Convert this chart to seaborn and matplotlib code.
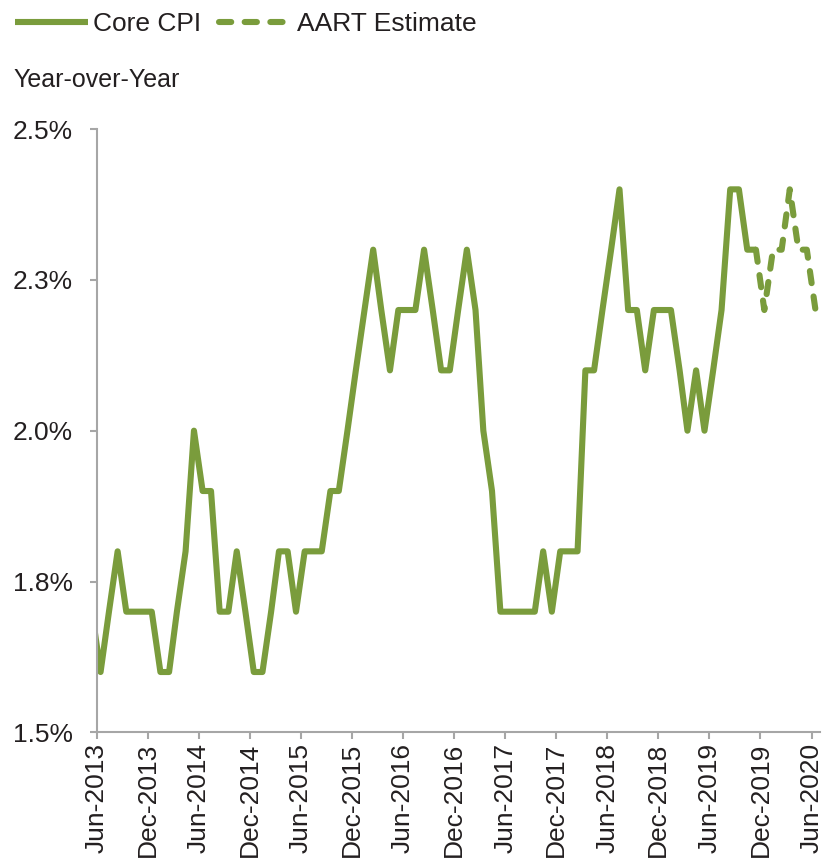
import numpy as np
import pandas as pd
import matplotlib
matplotlib.use("Agg")
import matplotlib.pyplot as plt
import matplotlib.dates as mdates
import seaborn as sns

# Core CPI, year-over-year %, May-2013 .. Nov-2019 (monthly)
core_first_month = "2013-05-01"
core_cpi = [1.7, 1.6, 1.7, 1.8, 1.7, 1.7, 1.7, 1.7,                    # 2013
            1.6, 1.6, 1.7, 1.8, 2.0, 1.9, 1.9, 1.7, 1.7, 1.8, 1.7, 1.6,  # 2014
            1.6, 1.7, 1.8, 1.8, 1.7, 1.8, 1.8, 1.8, 1.9, 1.9, 2.0, 2.1,  # 2015
            2.2, 2.3, 2.2, 2.1, 2.2, 2.2, 2.2, 2.3, 2.2, 2.1, 2.1, 2.2,  # 2016
            2.3, 2.2, 2.0, 1.9, 1.7, 1.7, 1.7, 1.7, 1.7, 1.8, 1.7, 1.8,  # 2017
            1.8, 1.8, 2.1, 2.1, 2.2, 2.3, 2.4, 2.2, 2.2, 2.1, 2.2, 2.2,  # 2018
            2.2, 2.1, 2.0, 2.1, 2.0, 2.1, 2.2, 2.4, 2.4, 2.3, 2.3]       # 2019

# AART estimate, Nov-2019 .. Jun-2020
aart_first_month = "2019-11-01"
aart_est = [2.3, 2.2, 2.3, 2.3, 2.4, 2.3, 2.3, 2.2]

y_ticks = [1.5, 1.75, 2.0, 2.25, 2.5]
y_tick_labels = ["1.5%", "1.8%", "2.0%", "2.3%", "2.5%"]

# points sit mid-month on the date axis
mid = pd.Timedelta(days=14)
core_df = pd.DataFrame({
    "date": pd.date_range(core_first_month, periods=len(core_cpi), freq="MS") + mid,
    "value": core_cpi})
aart_df = pd.DataFrame({
    "date": pd.date_range(aart_first_month, periods=len(aart_est), freq="MS") + mid,
    "value": aart_est})

sns.set_style("white")
plt.rcParams["font.family"] = ["Liberation Sans", "DejaVu Sans"]

green = "#7a9c3c"
text_color = "#231f20"
axis_gray = "#a6a6a6"

fig = plt.figure(figsize=(8.29, 8.63), dpi=100)
ax = fig.add_axes([0.1166, 0.1514, 0.8725, 0.6991])

sns.lineplot(data=core_df, x="date", y="value", ax=ax, color=green, linewidth=4.4,
             label="Core CPI", solid_joinstyle="round", solid_capstyle="butt")
sns.lineplot(data=aart_df, x="date", y="value", ax=ax, color=green, linewidth=4.4,
             label="AART Estimate")
aart_line = ax.get_lines()[-1]
aart_line.set_linestyle((0, (2.0, 2.2)))
aart_line.set_dash_capstyle("round")
aart_line.set_dash_joinstyle("round")

ax.set_xlim(pd.Timestamp("2013-06-01"), pd.Timestamp("2020-07-01"))
ax.set_ylim(1.5, 2.5)
ax.set_yticks(y_ticks)
ax.set_yticklabels(y_tick_labels)
ax.xaxis.set_major_locator(mdates.MonthLocator(bymonth=[6, 12]))
ax.xaxis.set_major_formatter(mdates.DateFormatter("%b-%Y"))
ax.set_xlabel("")
ax.set_ylabel("")

for side in ["top", "right"]:
    ax.spines[side].set_visible(False)
for side in ["left", "bottom"]:
    ax.spines[side].set_color(axis_gray)
    ax.spines[side].set_linewidth(1.5)

ax.tick_params(axis="y", direction="out", length=5, width=1.5, color=axis_gray,
               pad=12, labelsize=19, labelcolor=text_color, left=True)
ax.tick_params(axis="x", direction="out", length=5, width=1.5, color=axis_gray,
               pad=2.5, labelsize=19, labelcolor=text_color, bottom=True, labelrotation=90)

ax.get_legend().remove()
handles, labels = ax.get_legend_handles_labels()
fig.legend(handles, labels, loc="center left", bbox_to_anchor=(15 / 829, 1 - 24 / 863),
           ncol=2, frameon=False, fontsize=19, handlelength=2.75, handletextpad=0.2,
           columnspacing=0.7, borderpad=0, borderaxespad=0, labelcolor=text_color)

fig.text(13 / 829, 1 - 80 / 863, "Year-over-Year", fontsize=18, color=text_color,
         ha="left", va="center")

fig.savefig("out.png", dpi=100)
